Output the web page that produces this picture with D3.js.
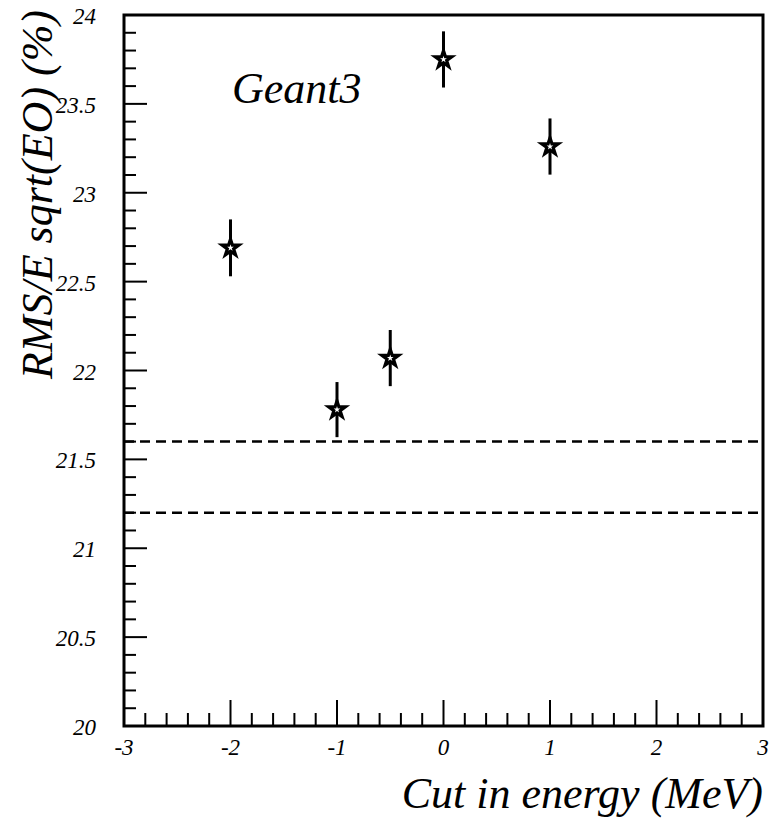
<!DOCTYPE html>
<html>
<head>
<meta charset="utf-8">
<script src="https://cdn.jsdelivr.net/npm/d3@7"></script>
<style>
  body { margin: 0; background: #fff; }
</style>
</head>
<body>
<div id="chart"></div>
<script>
// Data
var cutValues = [-2, -1, -0.5, 0, 1];
var rmsValues = [22.69, 21.78, 22.07, 23.75, 23.26];
var rmsErrors = [0.16, 0.155, 0.158, 0.158, 0.158];
var refLines = [21.6, 21.2];
var xTicks = [-3, -2, -1, 0, 1, 2, 3];
var yTicks = [20, 20.5, 21, 21.5, 22, 22.5, 23, 23.5, 24];

var svgWidth = 783;
var svgHeight = 823;
var plotLeft = 124, plotRight = 763, plotTop = 15, plotBottom = 726;
var fontFam = "'Times New Roman'";

var xScale = d3.scaleLinear().domain([-3, 3]).range([plotLeft, plotRight]);
var yScale = d3.scaleLinear().domain([20, 24]).range([plotBottom, plotTop]);

var svg = d3.select("#chart")
            .append("svg")
            .attr("width", svgWidth)
            .attr("height", svgHeight);

// minor and major ticks
var xMinor = d3.range(-3, 3.001, 0.2);
var yMinor = d3.range(20, 24.001, 0.1);

svg.selectAll("line.xminor")
   .data(xMinor)
   .enter()
   .append("line")
   .attr("x1", function(d) { return xScale(d); })
   .attr("x2", function(d) { return xScale(d); })
   .attr("y1", plotBottom)
   .attr("y2", function(d) {
     var major = Math.abs(d - Math.round(d)) < 1e-6;
     return plotBottom - (major ? 26 : 13);
   })
   .attr("stroke", "#000")
   .attr("stroke-width", 2);

svg.selectAll("line.yminor")
   .data(yMinor)
   .enter()
   .append("line")
   .attr("y1", function(d) { return yScale(d); })
   .attr("y2", function(d) { return yScale(d); })
   .attr("x1", plotLeft)
   .attr("x2", function(d) {
     var major = Math.abs(d * 2 - Math.round(d * 2)) < 1e-6;
     return plotLeft + (major ? 23 : 12);
   })
   .attr("stroke", "#000")
   .attr("stroke-width", 2);

// frame
svg.append("rect")
   .attr("x", plotLeft)
   .attr("y", plotTop)
   .attr("width", plotRight - plotLeft)
   .attr("height", plotBottom - plotTop)
   .attr("fill", "none")
   .attr("stroke", "#000")
   .attr("stroke-width", 3);

// tick labels
svg.selectAll("text.xlab")
   .data(xTicks)
   .enter()
   .append("text")
   .attr("x", function(d) { return xScale(d); })
   .attr("y", plotBottom + 29)
   .attr("text-anchor", "middle")
   .attr("font-family", fontFam)
   .attr("font-style", "italic")
   .attr("font-size", "23px")
   .text(function(d) { return d; });

svg.selectAll("text.ylab")
   .data(yTicks)
   .enter()
   .append("text")
   .attr("x", 96)
   .attr("y", function(d) { return yScale(d) + 9; })
   .attr("text-anchor", "end")
   .attr("font-family", fontFam)
   .attr("font-style", "italic")
   .attr("font-size", "23px")
   .text(function(d) { return d; });

// dashed reference lines
svg.selectAll("line.ref")
   .data(refLines)
   .enter()
   .append("line")
   .attr("x1", plotLeft)
   .attr("x2", plotRight)
   .attr("y1", function(d) { return yScale(d); })
   .attr("y2", function(d) { return yScale(d); })
   .attr("stroke", "#000")
   .attr("stroke-width", 2.5)
   .attr("stroke-dasharray", "10,6");

// error bars
var points = cutValues.map(function(c, i) {
  return { x: c, y: rmsValues[i], e: rmsErrors[i] };
});

svg.selectAll("line.err")
   .data(points)
   .enter()
   .append("line")
   .attr("x1", function(d) { return xScale(d.x); })
   .attr("x2", function(d) { return xScale(d.x); })
   .attr("y1", function(d) { return yScale(d.y + d.e); })
   .attr("y2", function(d) { return yScale(d.y - d.e); })
   .attr("stroke", "#000")
   .attr("stroke-width", 3);

// star markers
svg.selectAll("path.star")
   .data(points)
   .enter()
   .append("path")
   .attr("d", d3.symbol().type(d3.symbolStar).size(85))
   .attr("transform", function(d) {
     return "translate(" + xScale(d.x) + "," + yScale(d.y) + ")";
   })
   .attr("fill", "#fff")
   .attr("stroke", "#000")
   .attr("stroke-width", 3.2);

// titles
svg.append("text")
   .attr("x", 763)
   .attr("y", 808)
   .attr("text-anchor", "end")
   .attr("font-family", fontFam)
   .attr("font-style", "italic")
   .attr("font-size", "44px")
   .text("Cut in energy (MeV)");

svg.append("text")
   .attr("transform", "translate(52,10) rotate(-90)")
   .attr("text-anchor", "end")
   .attr("font-family", fontFam)
   .attr("font-style", "italic")
   .attr("font-size", "44px")
   .text("RMS/E sqrt(EO) (%)");

svg.append("text")
   .attr("x", 232)
   .attr("y", 103)
   .attr("font-family", fontFam)
   .attr("font-style", "italic")
   .attr("font-size", "44px")
   .text("Geant3");
</script>
</body>
</html>
